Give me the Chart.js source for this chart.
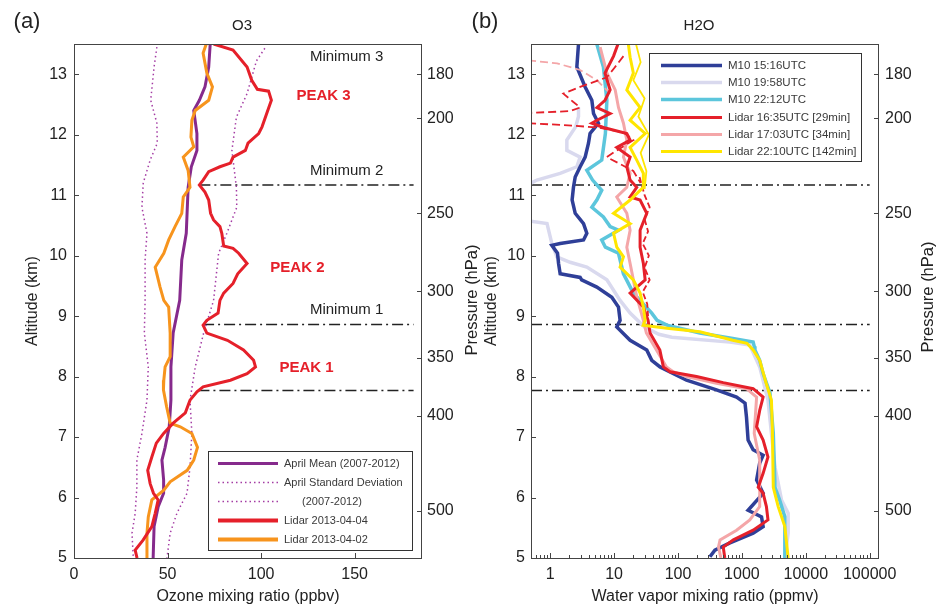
<!DOCTYPE html>
<html>
<head>
<meta charset="utf-8">
<script src="https://cdn.jsdelivr.net/npm/chart.js@4.4.1/dist/chart.umd.min.js"></script>
<style>
  html, body { margin: 0; padding: 0; background: #fff; }
  #wrap { position: relative; width: 937px; height: 607px; overflow: hidden; }
  canvas { position: absolute; top: 0; }
  #chartA { left: 0; }
  #chartB { left: 470px; }
</style>
</head>
<body>
<div id="wrap">
  <canvas id="chartA" width="480" height="607"></canvas>
  <canvas id="chartB" width="467" height="607"></canvas>
</div>
<script>
Chart.defaults.font.family = '"Liberation Sans", Arial, sans-serif';
Chart.defaults.font.size = 16;
Chart.defaults.color = '#222';

// shared altitude / pressure axis
const altTicks = [5, 6, 7, 8, 9, 10, 11, 12, 13];
const pressLabels = ['180', '200', '250', '300', '350', '400', '500'];
const pressAlt = [13.0, 12.27, 10.70, 9.41, 8.31, 7.35, 5.78];
const minAlt = [11.17, 8.86, 7.77];

// ---- panel (a) O3 ----
const o3Ticks = [0, 50, 100, 150];
const minStartO3 = [67, 69, 66.5];
const minEndO3 = 181.5;

const altRed = [13.5, 13.4, 13.12, 12.9, 12.75, 12.72, 12.57, 12.35, 12.13, 12.02, 11.86, 11.74, 11.63, 11.53, 11.47, 11.39, 11.25, 11.17, 11.05, 10.92, 10.7, 10.59, 10.48, 10.37, 10.16, 10.12, 10.04, 9.87, 9.7, 9.54, 9.38, 9.26, 9.05, 8.93, 8.85, 8.72, 8.6, 8.44, 8.27, 8.16, 8.05, 7.94, 7.83, 7.75, 7.61, 7.4, 7.23, 7.06, 6.9, 6.67, 6.45, 6.23, 6.07, 5.96, 5.74, 5.52, 5.3, 5.13, 5.0];
const o3Red = [74.6, 85, 92.5, 95, 98, 104, 105.5, 103, 100.5, 98.7, 93, 91.6, 85, 83.6, 78, 72, 69, 67, 70, 72, 73, 74.6, 78, 79, 80, 85, 88, 92.5, 87.5, 85, 80, 78, 77, 71, 69, 71, 82, 90.6, 96, 97, 92.5, 83.6, 69, 65.7, 62, 59.5, 53, 47.9, 44, 41.6, 39.4, 40.7, 42.5, 45, 43.4, 41.6, 37, 32.7, 33.7];

const altMean = [13.5, 13.12, 12.79, 12.57, 12.4, 12.02, 11.74, 11.47, 11.13, 10.37, 9.93, 9.26, 8.72, 8.16, 7.61, 7.17, 6.83, 6.62, 6.29, 6.07, 5.85, 5.52, 5.0];
const o3Mean = [72.8, 72, 70, 67, 64, 65.7, 65.7, 62.7, 61, 60, 57.6, 56.5, 53, 51.8, 51.8, 50.9, 48.7, 47, 47.9, 47.9, 45, 42.8, 42.3];

const altOrange = [13.5, 13.35, 13.02, 12.79, 12.57, 12.4, 12.24, 11.96, 11.8, 11.63, 11.41, 11.13, 10.97, 10.7, 10.48, 10.26, 10.04, 9.81, 9.48, 9.26, 9.15, 8.72, 8.33, 8.16, 7.94, 7.78, 7.5, 7.23, 7.17, 7.06, 6.83, 6.62, 6.45, 6.26, 6.12, 5.96, 5.68, 5.41, 5.0];
const o3Orange = [70.7, 69, 71, 74, 72, 64.8, 63, 62.5, 64, 58.4, 61, 62, 58.4, 57.6, 54, 50.6, 48, 43.4, 46, 48, 50.6, 51.4, 51.4, 48.7, 48, 47.8, 49.5, 51.4, 56.8, 63, 66, 64, 60.5, 51.4, 48, 41.6, 39.7, 39, 39];

const altSdLow = [13.45, 13.12, 12.57, 12.19, 11.86, 11.58, 11.2, 10.8, 10.37, 9.93, 9.26, 8.72, 8.16, 7.61, 7.06, 6.62, 6.17, 5.74, 5.41, 5.0];
const o3SdLow = [44.3, 42.8, 41, 44.3, 44.5, 40.7, 37, 36.3, 39, 38, 38, 37.6, 39.7, 39, 36.3, 33.6, 33.6, 32.7, 31, 31.7];
const altSdHigh = [13.43, 13.22, 12.68, 12.29, 11.74, 11.13, 10.8, 10.37, 10.04, 9.26, 8.72, 8.16, 7.61, 7.06, 6.5, 6.07, 5.74, 5.41, 5.0];
const o3SdHigh = [102, 97.5, 92.5, 86.8, 84.4, 86.8, 87, 81.7, 77.3, 74.6, 69.3, 64.8, 62, 63, 62, 60.4, 55, 51.4, 49.7];

// ---- panel (b) H2O ----
const h2oTicks = [1, 10, 100, 1000, 10000, 100000];
const h2oTickLabels = ['1', '10', '100', '1000', '10000', '100000'];

const altBlue = [13.5, 13.12, 12.79, 12.57, 12.35, 12.19, 12.02, 11.86, 11.63, 11.47, 11.3, 11.13, 10.92, 10.7, 10.53, 10.37, 10.26, 10.2, 10.17, 10.04, 9.87, 9.7, 9.64, 9.6, 9.48, 9.31, 9.15, 8.93, 8.82, 8.6, 8.44, 8.27, 8.16, 7.94, 7.78, 7.66, 7.56, 7.33, 6.95, 6.79, 6.7, 6.57, 6.29, 6.07, 5.79, 5.68, 5.52, 5.41, 5.25, 5.13, 5.02];
const h2oBlue = [2.77, 2.61, 3.52, 4.48, 4.76, 5.69, 4.2, 3.97, 3.52, 2.94, 2.46, 2.31, 2.2, 2.46, 3.32, 3.74, 3.32, 1.43, 1.06, 1.3, 1.35, 1.43, 2.94, 3.1, 5.36, 9.2, 11.7, 12.4, 11, 17.8, 32.4, 38.8, 52.3, 136, 400, 826, 1120, 1180, 1250, 1500, 2150, 1900, 1700, 2150, 1250, 2030, 2150, 1500, 650, 378, 316];

const altLav = [12.45, 12.3, 12.13, 11.91, 11.74, 11.63, 11.47, 11.36, 11.25, 11.2, 11.1, 10.6, 10.53, 10.2, 9.98, 9.89, 9.81, 9.6, 9.26, 9.05, 8.82, 8.7, 8.65, 8.57, 8.52, 8.16, 7.61, 7.06, 6.5, 5.96, 5.74, 5.41, 5.0];
const h2oLav = [2.77, 2.77, 2.5, 1.82, 1.82, 2.94, 2.61, 1.43, 0.62, 0.5, 0.3, 0.3, 0.89, 1.06, 1.27, 2.05, 3.74, 7.7, 12.4, 17.8, 30, 50, 80, 650, 1330, 1900, 2560, 2900, 3300, 4170, 5300, 5300, 4700];

const altCyan = [13.5, 13.12, 12.57, 12.02, 11.58, 11.41, 11.25, 11.08, 10.92, 10.8, 10.64, 10.48, 10.42, 10.26, 10.14, 10.04, 9.7, 9.38, 9.26, 9.05, 8.93, 8.85, 8.72, 8.63, 8.57, 8.5, 8.44, 8.27, 8.05, 7.73, 7.06, 6.17, 5.96, 5.68, 5.0];
const h2oCyan = [5.36, 6.8, 7.7, 7.3, 6.4, 3.74, 4.6, 6.4, 5.36, 4.48, 6.8, 8.66, 11.7, 6.4, 7.3, 11.7, 14, 20, 25.5, 38.8, 47, 67, 220, 720, 1500, 1560, 1600, 1900, 2150, 2750, 3100, 3300, 3900, 4700, 4700];

const altLidarA = [13.5, 13.3, 13.02, 12.74, 12.57, 12.45, 12.35, 12.24, 12.19, 12.12, 12.02, 11.91, 11.79, 11.63, 11.47, 11.25, 11.13, 10.97, 10.92, 10.7, 10.42, 10.14, 9.87, 9.6, 9.38, 9.15, 8.93, 8.72, 8.44, 8.16, 8.08, 8.0, 7.9, 7.8, 7.66, 7.44, 7.17, 6.95, 6.67, 6.4, 6.17, 6.07, 5.85, 5.63, 5.46, 5.3, 5.18, 5.0];
const h2oLidarA = [11.5, 9.8, 7.2, 8.66, 7.2, 5.4, 8.66, 5.4, 4.48, 6.8, 15.8, 17.8, 11, 17.8, 15.8, 17.8, 22.6, 17.8, 25.5, 32.4, 25.5, 25.5, 28.7, 30.6, 17.8, 28.7, 34, 36.5, 52, 59, 75, 195, 511, 1500, 2150, 1900, 1700, 2150, 2560, 2150, 1800, 2150, 2420, 2560, 1500, 736, 511, 540];

const altLidarB = [13.45, 13.02, 12.74, 12.45, 12.19, 11.91, 11.63, 11.36, 11.13, 10.97, 10.7, 10.42, 10.14, 9.87, 9.6, 9.32, 8.93, 8.72, 8.16, 8.08, 8.0, 7.89, 7.8, 7.66, 7.06, 6.62, 6.17, 5.85, 5.63, 5.46, 5.3, 5.18, 5.0];
const h2oLidarB = [6.04, 7.7, 10.4, 11.7, 14, 15.8, 14, 17.8, 15.8, 11, 15.8, 17.8, 15.8, 17.8, 20, 22.6, 28.7, 32, 66, 84, 136, 400, 1180, 1700, 1560, 1900, 1900, 1900, 1330, 826, 455, 430, 470];

const altLidarC = [13.5, 13.28, 13.02, 12.74, 12.45, 12.24, 12.02, 11.79, 11.58, 11.36, 11.13, 11.08, 10.92, 10.7, 10.53, 10.37, 10.14, 9.98, 9.81, 9.6, 9.38, 9.15, 8.93, 8.85, 8.8, 8.74, 8.6, 8.55, 8.44, 8.27, 7.89, 7.61, 7.12, 6.17, 5.85, 5.52, 5.0];
const h2oLidarC = [16.7, 17.8, 20, 15.8, 25.5, 17.8, 30.6, 17.8, 22.6, 28.7, 28.7, 25.5, 17.8, 9.8, 17.8, 9.8, 11, 14, 12.4, 20, 25.5, 28.7, 30.6, 28.5, 67, 220, 720, 1200, 1500, 1900, 2400, 2900, 3000, 3100, 3700, 4700, 5300];

// extra lidar realisations (dashed / thin)
const altRedDash1 = [13.3, 13.1, 12.95, 12.79, 12.68, 12.54, 12.45, 12.39, 12.36];
const h2oRedDash1 = [14, 10, 7.7, 2.94, 1.6, 2.3, 2.94, 2.05, 0.45];
const altRedDash2 = [12.19, 12.16, 12.12, 12.04, 11.91, 11.74, 11.63, 11.4, 11.2];
const h2oRedDash2 = [0.45, 1.6, 5.4, 14, 20, 11, 7.7, 20, 26];
const altRedDash3 = [11.3, 11.0, 10.8, 10.6, 10.4, 10.2, 10.0, 9.8, 9.6, 9.4, 9.2, 9.0];
const h2oRedDash3 = [25, 30, 36, 30, 34, 28, 35, 30, 36, 28, 33, 34];
const altPinkDash = [13.23, 13.18, 13.07, 12.9, 12.68];
const h2oPinkDash = [0.45, 1.28, 2.94, 5.4, 8.66];
const altYellowThin = [13.5, 13.2, 12.9, 12.6, 12.3, 12.0, 11.7, 11.4, 11.1];
const h2oYellowThin = [22, 26, 20, 30, 24, 35, 26, 32, 30];

const pts = (xs, ys) => ys.map((y, i) => ({x: xs[i], y: y}));

const decor = {
  id: 'decor',
  afterDatasetsDraw(chart, args, o) {
    const {ctx, chartArea: a} = chart;
    ctx.save();
    // frame
    ctx.strokeStyle = '#444';
    ctx.lineWidth = 1;
    ctx.strokeRect(a.left + 0.5, a.top + 0.5, a.right - a.left - 1, a.bottom - a.top);
    // inner ticks
    for (const s of Object.values(chart.scales)) {
      ctx.beginPath();
      for (const t of s.ticks) {
        const len = t.label === '' ? 3 : 5;
        const p = Math.round(s.getPixelForValue(t.value)) + 0.5;
        if (s.position === 'bottom') { ctx.moveTo(p, a.bottom); ctx.lineTo(p, a.bottom - len); }
        else if (s.position === 'left') { ctx.moveTo(a.left, p); ctx.lineTo(a.left + len, p); }
        else { ctx.moveTo(a.right, p); ctx.lineTo(a.right - len, p); }
      }
      ctx.stroke();
    }
    const xs = chart.scales.x, ys = chart.scales.y;
    ctx.textAlign = 'center';
    ctx.textBaseline = 'middle';
    // notes in data coordinates
    (o.notes || []).forEach(n => {
      ctx.fillStyle = n.color;
      ctx.font = (n.bold ? 'bold ' : '') + '15px "Liberation Sans", Arial, sans-serif';
      ctx.fillText(n.text, xs.getPixelForValue(n.x), ys.getPixelForValue(n.y));
    });
    // panel heads
    ctx.fillStyle = '#222';
    (o.heads || []).forEach(h => {
      ctx.font = h.size + 'px "Liberation Sans", Arial, sans-serif';
      ctx.fillText(h.text, h.x, h.y);
    });
    // right axis title, reads bottom to top
    if (o.rightTitle) {
      ctx.save();
      ctx.font = '16.5px "Liberation Sans", Arial, sans-serif';
      ctx.translate(o.rightTitle.x, (a.top + a.bottom) / 2 + o.rightTitle.dy);
      ctx.rotate(-Math.PI / 2);
      ctx.fillText(o.rightTitle.text, 0, 0);
      ctx.restore();
    }
    // legend
    const L = o.legend;
    if (L) {
      ctx.fillStyle = '#fff';
      ctx.fillRect(L.x, L.y, L.w, L.h);
      ctx.strokeStyle = '#333';
      ctx.lineWidth = 1;
      ctx.strokeRect(L.x + 0.5, L.y + 0.5, L.w, L.h);
      ctx.font = L.font + 'px "Liberation Sans", Arial, sans-serif';
      ctx.textAlign = 'left';
      let row = 0;
      chart.data.datasets.forEach(ds => {
        if (!ds.legendText) return;
        const lines = [].concat(ds.legendText);
        lines.forEach((txt, k) => {
          const yy = Math.round(L.y + L.first + row * L.rowH) + 0.5;
          ctx.strokeStyle = ds.borderColor;
          ctx.lineWidth = ds.legendWidth || ds.borderWidth;
          ctx.setLineDash(ds.borderDash || []);
          ctx.beginPath();
          ctx.moveTo(L.x + L.s0, yy);
          ctx.lineTo(L.x + L.s1, yy);
          ctx.stroke();
          ctx.setLineDash([]);
          ctx.fillStyle = '#3a3a3a';
          ctx.fillText(txt, L.x + L.tx + (k > 0 ? L.indent : 0), yy);
          row++;
        });
      });
    }
    ctx.restore();
  }
};

const axisTitle = (text, pad) => ({display: true, text: text, padding: pad, font: {size: 16}});

function minLines(starts, end) {
  return minAlt.map((al, i) => ({
    data: [{x: starts[i], y: al}, {x: end, y: al}],
    borderColor: '#222', borderWidth: 1.5, borderDash: [11, 4, 2, 4], order: 20
  }));
}

const altAxis = (pos, width, pad, titleText, isPress) => ({
  type: 'linear', position: pos, min: 5, max: 13.5,
  grid: {display: false, drawTicks: false}, border: {display: false},
  afterBuildTicks: s => { s.ticks = (isPress ? pressAlt : altTicks).map(v => ({value: v})); },
  afterFit: s => { s.width = width; },
  ticks: {
    padding: pad, autoSkip: false,
    callback: (v, i) => isPress ? pressLabels[i] : String(v)
  },
  title: titleText ? titleText : {display: false}
});

new Chart(document.getElementById('chartA'), {
  type: 'line',
  data: {
    datasets: [
      {data: pts(o3Red, altRed), borderColor: '#e5202a', borderWidth: 3, order: 1},
      {data: pts(o3Orange, altOrange), borderColor: '#f7941d', borderWidth: 3, order: 2},
      {data: pts(o3Mean, altMean), borderColor: '#862a8c', borderWidth: 3, order: 3, legendText: 'April Mean (2007-2012)'},
      {data: pts(o3SdLow, altSdLow), borderColor: '#a43ca4', borderWidth: 1.5, borderDash: [1.5, 3], order: 4,
        legendText: ['April Standard Deviation', '(2007-2012)']},
      {data: pts(o3SdHigh, altSdHigh), borderColor: '#a43ca4', borderWidth: 1.5, borderDash: [1.5, 3], order: 5},
      {data: [], borderColor: '#e5202a', borderWidth: 4, legendText: 'Lidar 2013-04-04'},
      {data: [], borderColor: '#f7941d', borderWidth: 4, legendText: 'Lidar 2013-04-02'},
      ...minLines(minStartO3, minEndO3)
    ]
  },
  options: {
    responsive: false, animation: false, devicePixelRatio: 1,
    layout: {padding: {top: 44, left: 0, right: 0, bottom: 0}},
    elements: {point: {radius: 0}, line: {tension: 0}},
    plugins: {
      legend: {display: false}, tooltip: {enabled: false},
      decor: {
        notes: [
          {x: 145.7, y: 13.28, text: 'Minimum 3', color: '#222'},
          {x: 133.4, y: 12.65, text: 'PEAK 3', color: '#e5202a', bold: true},
          {x: 145.7, y: 11.4, text: 'Minimum 2', color: '#222'},
          {x: 119.4, y: 9.79, text: 'PEAK 2', color: '#e5202a', bold: true},
          {x: 145.7, y: 9.1, text: 'Minimum 1', color: '#222'},
          {x: 124.3, y: 8.14, text: 'PEAK 1', color: '#e5202a', bold: true}
        ],
        heads: [{text: '(a)', x: 27, y: 22, size: 22}, {text: 'O3', x: 242, y: 26, size: 15}],
        rightTitle: {text: 'Pressure (hPa)', x: 472, dy: -1},
        legend: {x: 208, y: 451, w: 204, h: 99, first: 12, rowH: 19, s0: 10, s1: 70, tx: 76, indent: 18, font: 11}
      }
    },
    scales: {
      x: {
        type: 'linear', position: 'bottom', min: 0, max: 186,
        grid: {display: false, drawTicks: false}, border: {display: false},
        afterBuildTicks: s => { s.ticks = o3Ticks.map(v => ({value: v})); },
        afterFit: s => { s.height = 49; },
        ticks: {padding: 7, maxRotation: 0, autoSkip: false},
        title: axisTitle('Ozone mixing ratio (ppbv)', {top: 0, bottom: 1})
      },
      y: altAxis('left', 74, 7, axisTitle('Altitude (km)', {top: 23, bottom: 0}), false),
      y2: altAxis('right', 58, 5, null, true)
    }
  },
  plugins: [decor]
});

new Chart(document.getElementById('chartB'), {
  type: 'line',
  data: {
    datasets: [
      {data: pts(h2oBlue, altBlue), borderColor: '#2f3f98', borderWidth: 3.5, order: 5, legendText: 'M10 15:16UTC'},
      {data: pts(h2oLav, altLav), borderColor: '#d9d9ee', borderWidth: 3.5, order: 6, legendText: 'M10 19:58UTC'},
      {data: pts(h2oCyan, altCyan), borderColor: '#5cc6dc', borderWidth: 3.5, order: 4, legendText: 'M10 22:12UTC'},
      {data: pts(h2oLidarA, altLidarA), borderColor: '#e5202a', borderWidth: 3, order: 1, legendText: 'Lidar 16:35UTC [29min]'},
      {data: pts(h2oLidarB, altLidarB), borderColor: '#f4a6a8', borderWidth: 3, order: 3, legendText: 'Lidar 17:03UTC [34min]'},
      {data: pts(h2oLidarC, altLidarC), borderColor: '#ffe600', borderWidth: 3, order: 0, legendText: 'Lidar 22:10UTC [142min]'},
      {data: pts(h2oRedDash1, altRedDash1), borderColor: '#e5202a', borderWidth: 1.8, borderDash: [8, 4], order: 2},
      {data: pts(h2oRedDash2, altRedDash2), borderColor: '#e5202a', borderWidth: 1.8, borderDash: [8, 4], order: 2},
      {data: pts(h2oRedDash3, altRedDash3), borderColor: '#e5202a', borderWidth: 1.8, borderDash: [6, 3], order: 2},
      {data: pts(h2oPinkDash, altPinkDash), borderColor: '#f4a6a8', borderWidth: 1.8, borderDash: [8, 4], order: 3},
      {data: pts(h2oYellowThin, altYellowThin), borderColor: '#ffe600', borderWidth: 1.8, order: 0},
      ...minLines(minAlt.map(() => 0.5), 100000)
    ]
  },
  options: {
    responsive: false, animation: false, devicePixelRatio: 1,
    layout: {padding: {top: 44, left: 0, right: 0, bottom: 0}},
    elements: {point: {radius: 0}, line: {tension: 0}},
    plugins: {
      legend: {display: false}, tooltip: {enabled: false},
      decor: {
        heads: [{text: '(b)', x: 15, y: 22, size: 22}, {text: 'H2O', x: 229, y: 26, size: 15}],
        rightTitle: {text: 'Pressure (hPa)', x: 458, dy: -4},
        legend: {x: 179, y: 53, w: 212, h: 108, first: 12, rowH: 17.2, s0: 12, s1: 73, tx: 79, indent: 0, font: 11.5}
      }
    },
    scales: {
      x: {
        type: 'logarithmic', position: 'bottom', min: 0.5, max: 140000,
        grid: {display: false, drawTicks: false}, border: {display: false},
        afterBuildTicks: s => {
          const t = [];
          for (let d = 0.1; d < 200000; d *= 10) {
            for (let m = 1; m < 10; m++) {
              const v = Math.round(m * d * 10) / 10;
              if (v >= 0.5 && v <= 100000) t.push({value: v});
            }
          }
          s.ticks = t;
        },
        afterFit: s => { s.height = 49; },
        ticks: {
          padding: 7, maxRotation: 0, autoSkip: false,
          callback: v => { const i = h2oTicks.indexOf(v); return i >= 0 ? h2oTickLabels[i] : ''; }
        },
        title: axisTitle('Water vapor mixing ratio (ppmv)', {top: 0, bottom: 1})
      },
      y: altAxis('left', 61, 6, axisTitle('Altitude (km)', {top: 12, bottom: 0}), false),
      y2: altAxis('right', 58, 6, null, true)
    }
  },
  plugins: [decor]
});
</script>
</body>
</html>
